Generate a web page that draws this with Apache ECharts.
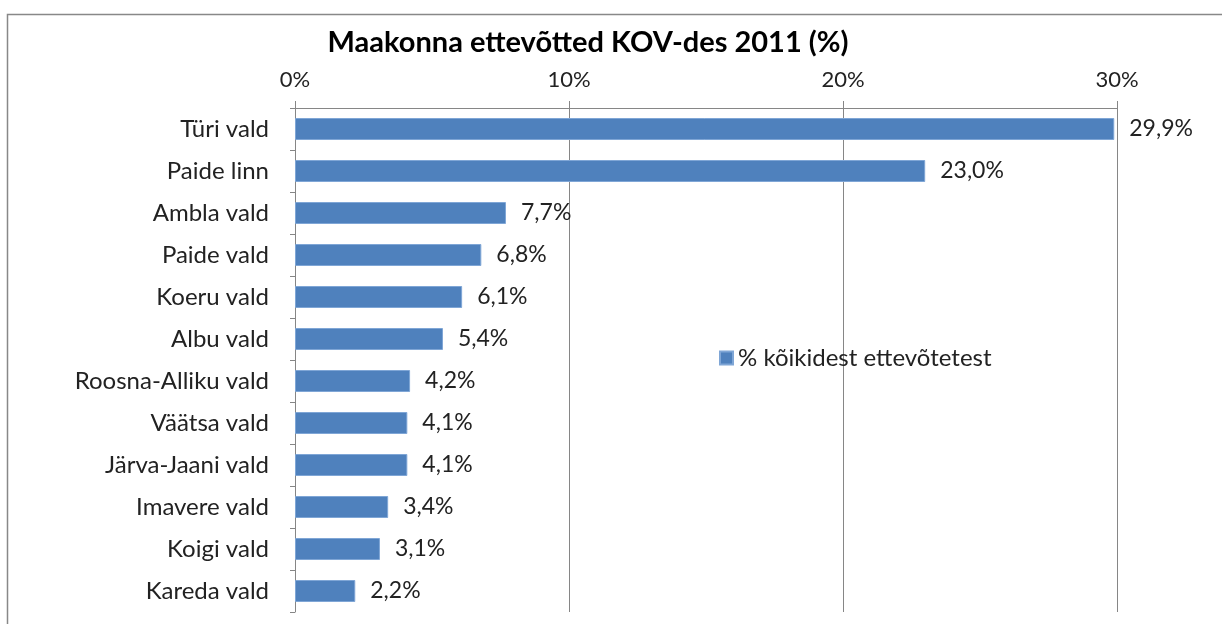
<!DOCTYPE html>
<html>
  <head>
    <meta charset="utf-8" />
    <title>Maakonna ettevõtted</title>
    <script src="https://cdn.jsdelivr.net/npm/echarts@6/dist/echarts.min.js"></script>
    <style>
      body { margin: 0; background: #fff; }
      #main { width: 1222px; height: 624px; }
    </style>
  </head>
  <body>
    <div id="main"></div>
    <script type="text/javascript">
// andmed
var categories = ['Türi vald', 'Paide linn', 'Ambla vald', 'Paide vald', 'Koeru vald', 'Albu vald',
  'Roosna-Alliku vald', 'Väätsa vald', 'Järva-Jaani vald', 'Imavere vald', 'Koigi vald', 'Kareda vald'];
var values = [29.9, 23.0, 7.7, 6.8, 6.1, 5.4, 4.2, 4.1, 4.1, 3.4, 3.1, 2.2];
var seriesName = '% kõikidest ettevõtetest';
var axisTicks = [0, 10, 20, 30];

var font = 'Lato, "Open Sans", sans-serif';
var myChart = echarts.init(document.getElementById('main'));

var option = {
  animation: false,
  textStyle: { fontFamily: font },
  title: {
    text: 'Maakonna ettevõtted KOV-des 2011 (%)',
    left: 583,
    top: 23,
    textAlign: 'center',
    textStyle: { fontSize: 29, fontWeight: 'bold', color: '#000', fontFamily: font }
  },
  legend: {
    left: 714,
    top: 341,
    icon: 'rect',
    itemWidth: 13,
    itemHeight: 13,
    itemGap: 6,
    textStyle: { fontSize: 24, color: '#222', fontFamily: font },
    data: [seriesName]
  },
  grid: { left: 295, right: 105, top: 108, bottom: 12 },
  xAxis: {
    type: 'value',
    position: 'top',
    min: axisTicks[0],
    max: axisTicks[axisTicks.length - 1],
    interval: 10,
    axisLine: { show: true, lineStyle: { color: '#868686' } },
    axisTick: { show: true, length: 7, lineStyle: { color: '#868686' } },
    splitLine: { show: true, lineStyle: { color: '#868686', width: 1 } },
    axisLabel: { formatter: '{value}%', fontSize: 22, color: '#222', margin: 17, fontFamily: font }
  },
  yAxis: {
    type: 'category',
    inverse: true,
    data: categories,
    axisLine: { show: true, lineStyle: { color: '#868686' } },
    axisTick: { show: true, length: 5, lineStyle: { color: '#868686' } },
    axisLabel: { fontSize: 24, color: '#222', margin: 26, fontFamily: font }
  },
  series: [{
    name: seriesName,
    type: 'bar',
    data: values,
    barWidth: 22,
    itemStyle: { color: '#4F81BD', borderColor: '#7FA6D6', borderWidth: 1 },
    label: {
      show: true,
      position: 'right',
      distance: 15,
      fontSize: 23,
      color: '#222',
      fontFamily: font,
      formatter: function (p) { return p.value.toFixed(1).replace('.', ',') + '%'; }
    }
  }],
  graphic: [{
    type: 'rect',
    shape: { x: 7.5, y: 14.5, width: 1300, height: 700 },
    style: { fill: 'none', stroke: '#888', lineWidth: 1.5 },
    silent: true
  }]
};

myChart.setOption(option);
    </script>
  </body>
</html>
